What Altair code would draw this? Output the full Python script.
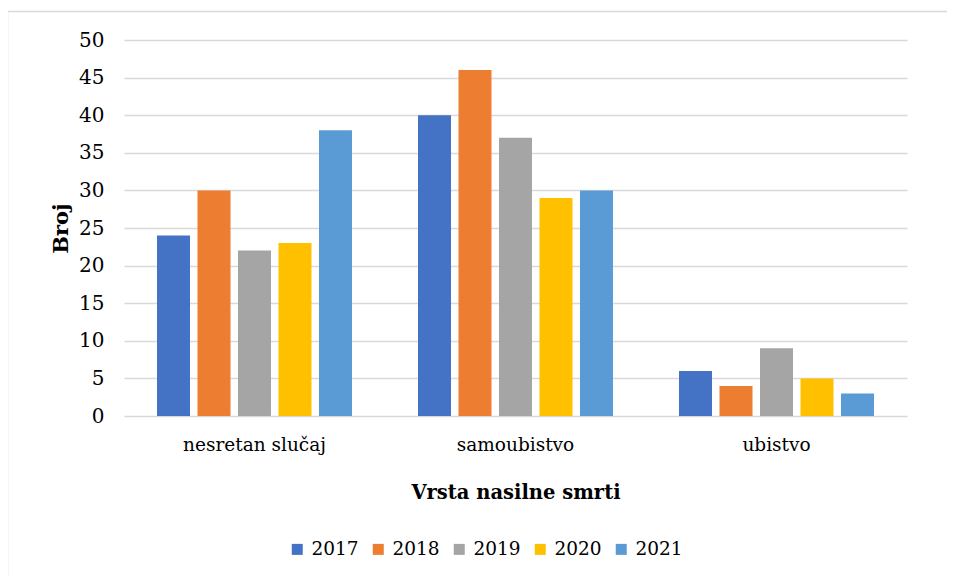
import altair as alt
import pandas as pd

categories = ["nesretan slučaj", "samoubistvo", "ubistvo"]
years = ["2017", "2018", "2019", "2020", "2021"]
values_2017 = [24, 40, 6]
values_2018 = [30, 46, 4]
values_2019 = [22, 37, 9]
values_2020 = [23, 29, 5]
values_2021 = [38, 30, 3]
colors = ["#4472C4", "#ED7D31", "#A5A5A5", "#FFC000", "#5B9BD5"]

series = [values_2017, values_2018, values_2019, values_2020, values_2021]
rows = []
for y, vals in zip(years, series):
    for c, v in zip(categories, vals):
        rows.append({"Vrsta": c, "Godina": y, "Broj": v})
df = pd.DataFrame(rows)

FONT = "DejaVu Serif"
W, H = 783, 376

bars = alt.Chart(df).mark_bar().encode(
    x=alt.X("Vrsta:N", sort=categories,
            scale=alt.Scale(paddingInner=0, paddingOuter=0),
            axis=alt.Axis(title="Vrsta nasilne smrti", labelAngle=0,
                          labelFont=FONT, labelFontSize=18.5, labelColor="#000000",
                          labelPadding=19, domain=False, ticks=False,
                          titleFont=FONT, titleFontSize=19.5, titleFontWeight="bold",
                          titleColor="#000000", titlePadding=30)),
    xOffset=alt.XOffset("Godina:N", sort=years,
                        scale=alt.Scale(paddingInner=0.185, paddingOuter=0.815)),
    y=alt.Y("Broj:Q", scale=alt.Scale(domain=[0, 50], nice=False),
            axis=alt.Axis(title="Broj", values=list(range(0, 55, 5)),
                          labelFont=FONT, labelFontSize=20, labelColor="#000000",
                          labelPadding=20, domain=False, ticks=False,
                          grid=True, gridColor="#d9d9d9", gridWidth=1.5,
                          titleFont=FONT, titleFontSize=21, titleFontWeight="bold",
                          titleColor="#000000", titlePadding=7)),
    color=alt.Color("Godina:N", sort=years,
                    scale=alt.Scale(domain=years, range=colors),
                    legend=alt.Legend(title=None, orient="none", direction="horizontal",
                                      legendX=164, legendY=500,
                                      symbolType="square", symbolSize=121,
                                      symbolStrokeWidth=0, symbolOpacity=1,
                                      labelFont=FONT, labelFontSize=18.5,
                                      labelColor="#000000", labelOffset=5,
                                      columnPadding=10)),
)

frame = alt.Chart(pd.DataFrame({"f": [0]})).mark_rect(
    fill=None, stroke="#d9d9d9", strokeWidth=1.5
).encode(
    x=alt.value(-116.5), x2=alt.value(W + 60),
    y=alt.value(-28.5), y2=alt.value(H + 250),
)

chart = alt.layer(frame, bars).properties(
    width=W, height=H,
    autosize=alt.AutoSizeParams(type="none"),
    padding={"left": 116, "top": 32, "right": 40, "bottom": 160},
).configure(background="white").configure_view(stroke=None)

chart.save("out.html", embed_options={"renderer": "svg", "actions": False})
